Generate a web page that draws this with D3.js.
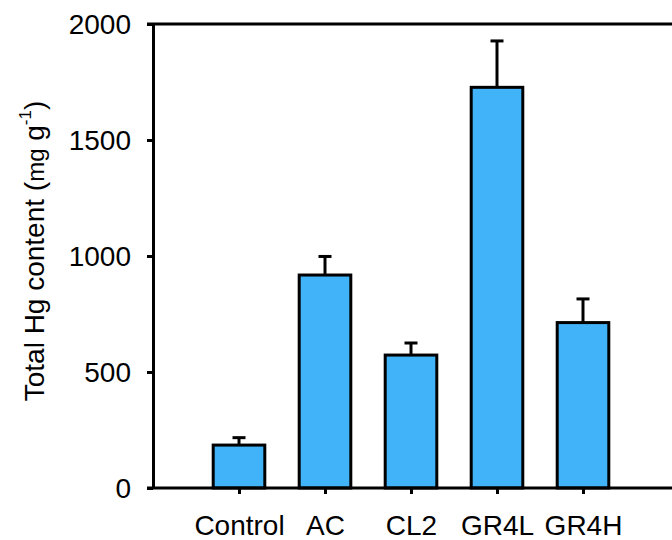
<!DOCTYPE html>
<html>
<head>
<meta charset="utf-8">
<script src="https://cdn.jsdelivr.net/npm/d3@7"></script>
<style>
  body { margin: 0; background: #fff; }
  text { font-family: "Liberation Sans", Arial, sans-serif; fill: #000; }
</style>
</head>
<body>
<div id="chart"></div>
<script>
let svgWidth = 672;
let svgHeight = 540;

// chart data
let groups = ["Control", "AC", "CL2", "GR4L", "GR4H"];
let hgValues = [185, 918, 573, 1727, 713];
let hgErrors = [32, 80, 52, 200, 102];
let yTicks = [0, 500, 1000, 1500, 2000];

let margin = { top: 24, right: 0, bottom: 52, left: 153 };
let height = svgHeight - margin.top - margin.bottom;

let svg = d3.select("#chart")
  .append("svg")
  .attr("width", svgWidth)
  .attr("height", svgHeight);

// x positions: one unit per group, axis running past the last bar
let xScale = d3.scaleLinear()
  .domain([0, 6.05])
  .range([margin.left, margin.left + 6.05 * 86]);

let yScale = d3.scaleLinear()
  .domain([0, 2000])
  .range([margin.top + height, margin.top]);

let barWidth = xScale(0.6) - xScale(0);

// bars
svg.selectAll("rect.bar")
  .data(hgValues)
  .enter()
  .append("rect")
  .attr("class", "bar")
  .attr("x", (d, i) => xScale(i + 1) - barWidth / 2)
  .attr("y", d => yScale(d))
  .attr("width", barWidth)
  .attr("height", d => yScale(0) - yScale(d))
  .attr("fill", "#41b3f9")
  .attr("stroke", "#000")
  .attr("stroke-width", 3);

// error bars (upper only)
svg.selectAll("line.err")
  .data(hgValues)
  .enter()
  .append("line")
  .attr("class", "err")
  .attr("x1", (d, i) => xScale(i + 1))
  .attr("x2", (d, i) => xScale(i + 1))
  .attr("y1", d => yScale(d))
  .attr("y2", (d, i) => yScale(d + hgErrors[i]))
  .attr("stroke", "#000")
  .attr("stroke-width", 3);

svg.selectAll("line.cap")
  .data(hgValues)
  .enter()
  .append("line")
  .attr("class", "cap")
  .attr("x1", (d, i) => xScale(i + 1) - 6.5)
  .attr("x2", (d, i) => xScale(i + 1) + 6.5)
  .attr("y1", (d, i) => yScale(d + hgErrors[i]))
  .attr("y2", (d, i) => yScale(d + hgErrors[i]))
  .attr("stroke", "#000")
  .attr("stroke-width", 3);

// top frame line
svg.append("line")
  .attr("x1", xScale(0) - 6)
  .attr("x2", svgWidth)
  .attr("y1", yScale(2000))
  .attr("y2", yScale(2000))
  .attr("stroke", "#000")
  .attr("stroke-width", 3);

// y axis
let yAxis = svg.append("g")
  .attr("transform", `translate(${xScale(0)}, 0)`)
  .call(d3.axisLeft(yScale).tickValues(yTicks).tickSize(6).tickSizeOuter(0).tickPadding(16).tickFormat(d3.format("d")));

yAxis.select(".domain").attr("stroke-width", 3);
yAxis.selectAll(".tick line").attr("stroke-width", 3);
yAxis.selectAll(".tick text").attr("font-size", 28).attr("dy", "0.33em");

// x axis
let xAxis = svg.append("g")
  .attr("transform", `translate(0, ${yScale(0)})`)
  .call(d3.axisBottom(xScale)
    .tickValues(groups.map((g, i) => i + 1))
    .tickSize(6)
    .tickSizeOuter(0)
    .tickPadding(21)
    .tickFormat((d, i) => groups[i]));

xAxis.select(".domain")
  .attr("d", `M${xScale(0) - 6},0H${svgWidth}`)
  .attr("stroke-width", 3);
xAxis.selectAll(".tick line").attr("stroke-width", 3);
xAxis.selectAll(".tick text").attr("font-size", 28);

// y axis label
let yLabel = svg.append("text")
  .attr("transform", `translate(44, 251) rotate(-90)`)
  .attr("text-anchor", "middle")
  .attr("font-size", 28);

yLabel.append("tspan").text("Total Hg content (");
yLabel.append("tspan").attr("font-size", 24).text("mg");
yLabel.append("tspan").text(" g");
yLabel.append("tspan").attr("font-size", 17).attr("dy", "-0.75em").text("-1");
yLabel.append("tspan").attr("dy", "0.45em").text(")");
</script>
</body>
</html>
